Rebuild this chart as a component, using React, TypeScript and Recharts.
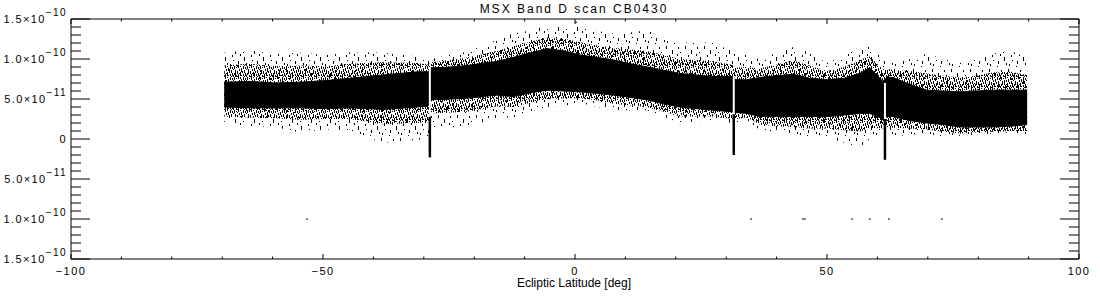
import {
  Area,
  ComposedChart,
  ReferenceArea,
  ReferenceLine,
  Scatter,
  XAxis,
  YAxis,
} from "recharts";

// ecliptic latitude samples along the scan
const lat = [
  -69.6, -64.5, -59.5, -54.6, -49.5, -44.6, -38.1, -31.3, -29.2, -28.4, -24.5, -21.4,
  -15.5, -12.3, -8.5, -5.6, -2.0, 1.0, 4.5, 7.5, 11.0, 14.3, 17.5, 20.8, 24.0, 27.4,
  31.1, 31.9, 34.1, 36.7, 40.0, 43.3, 46.5, 50.0, 53.5, 56.5, 58.5, 61.1, 61.9, 63.1,
  66.5, 69.8, 73.0, 76.4, 79.5, 82.9, 86.5, 89.7,
];
// flux in units of 1e-11: dense core of the point cloud
const coreHi = [
  7.1, 7.2, 7.0, 7.1, 7.3, 7.6, 8.0, 8.4, 8.4, 8.9, 9.0, 9.2, 9.7, 10.2, 10.8, 11.3,
  11.0, 10.5, 10.2, 9.9, 9.4, 9.0, 8.6, 8.2, 8.0, 7.8, 7.8, 7.4, 7.4, 7.7, 7.9, 8.1,
  7.6, 7.4, 7.6, 8.2, 8.9, 7.2, 7.7, 7.7, 6.8, 6.1, 6.0, 5.9, 6.0, 6.1, 6.1, 6.1,
];
const coreLo = [
  4.0, 3.9, 3.9, 3.9, 3.8, 3.9, 3.7, 4.0, 4.1, 4.9, 5.0, 5.1, 5.5, 5.3, 5.8, 6.1,
  6.0, 5.9, 5.7, 5.5, 5.2, 4.9, 4.4, 4.0, 3.8, 3.6, 3.4, 3.3, 3.2, 2.8, 2.8, 2.8,
  2.8, 2.8, 3.0, 3.2, 3.2, 2.5, 2.8, 2.8, 2.3, 2.0, 1.8, 1.5, 1.5, 1.5, 1.6, 1.8,
];
// ragged fringe around the core
const fringeHi = [
  9.2, 9.4, 9.1, 9.2, 9.1, 9.4, 9.6, 9.5, 9.3, 9.6, 9.9, 10.2, 11.0, 11.6, 12.2, 12.7,
  12.5, 12.1, 11.7, 11.4, 11.2, 11.0, 10.5, 10.0, 9.9, 9.7, 9.3, 8.9, 9.0, 8.8, 9.3, 9.8,
  9.2, 8.5, 9.0, 9.9, 10.3, 8.7, 8.9, 8.6, 8.5, 8.2, 7.9, 7.7, 7.9, 8.3, 8.4, 8.0,
];
const fringeLo = [
  2.8, 2.7, 2.6, 2.4, 2.5, 2.5, 1.8, 2.0, 2.1, 3.2, 3.3, 3.4, 4.1, 4.0, 4.6, 5.0,
  5.1, 5.1, 4.8, 4.4, 4.2, 4.0, 3.4, 2.8, 2.8, 2.8, 2.5, 2.5, 2.7, 1.8, 1.6, 1.5,
  1.3, 1.3, 1.1, 0.9, 1.4, 1.3, 1.5, 1.4, 1.3, 1.2, 0.9, 0.7, 0.8, 0.9, 1.0, 1.0,
];
// outer reach of the sparse spikes
const haloHi = [
  10.8, 11.1, 10.6, 10.8, 10.5, 10.8, 10.8, 10.3, 10.0, 10.0, 10.6, 10.9, 12.4, 13.2,
  13.6, 14.2, 14.0, 14.0, 13.5, 13.2, 13.3, 13.6, 12.6, 12.0, 12.2, 12.0, 11.0, 10.5,
  10.7, 9.9, 10.8, 11.5, 10.8, 9.5, 10.5, 11.5, 11.8, 10.0, 10.0, 9.5, 10.0, 10.7,
  10.0, 9.5, 10.0, 10.7, 11.0, 10.2,
];
const haloLo = [
  2.0, 1.6, 1.5, 0.8, 1.2, 1.1, -0.5, -0.1, 0.0, 1.5, 1.5, 1.5, 2.7, 2.7, 3.5, 4.0,
  4.2, 4.5, 4.0, 3.6, 3.6, 3.6, 2.8, 2.0, 2.2, 2.4, 2.0, 2.0, 2.4, 1.1, 0.9, 0.7,
  0.3, 0.2, -0.5, -1.0, 0.0, 0.5, 0.5, 0.3, 0.5, 0.7, 0.3, 0.2, 0.5, 0.7, 0.8, 0.5,
];

// data gaps (white) with the dip just below each
const gapLat = [-28.8, 31.5, 61.5];
const gapTop = [9.0, 7.8, 7.0];
const gapBottom = [2.8, 3.1, 2.5];
const dipBottom = [-2.3, -2.0, -2.6];

// isolated outliers
const outLat = [-53.2, 0.2, 34.9, 45.2, 45.6, 55.0, 58.5, 62.3, 72.8];
const outVal = [-10.0, 14.6, -10.0, -10.0, -10.0, -10.0, -10.0, -10.0, -10.0];

const xTicks = [-100, -90, -80, -70, -60, -50, -40, -30, -20, -10, 0, 10, 20, 30, 40, 50, 60, 70, 80, 90, 100];
const yTicks = Array.from({ length: 31 }, (_, i) => i - 15);
const yLabels: Record<number, [string, string]> = {
  15: ["1.5×10", "−10"],
  10: ["1.0×10", "−10"],
  5: ["5.0×10", "−11"],
  0: ["0", ""],
  [-5]: ["5.0×10", "−11"],
  [-10]: ["1.0×10", "−10"],
  [-15]: ["1.5×10", "−10"],
};

// stipple used for the scattered points (x, y, h per streak)
const sparseDots = [
  [1, 0, 3], [4, 9, 2], [7, 4, 4], [10, 15, 3], [13, 1, 2], [16, 11, 4],
  [2, 18, 2], [9, 20, 1], [15, 6, 1], [18, 17, 2], [5, 14, 1], [12, 8, 2],
];
const denseDots = [
  [0, 0, 3], [0, 7, 2], [1, 4, 4], [2, 9, 2], [2, 1, 1], [3, 5, 3],
  [4, 0, 2], [4, 8, 3], [5, 3, 2], [6, 6, 4], [6, 0, 1], [7, 2, 3],
  [7, 9, 1], [8, 5, 2], [9, 0, 3], [9, 8, 2], [10, 4, 3], [11, 1, 2],
  [11, 7, 3], [12, 3, 1], [12, 9, 2], [3, 10, 1], [10, 10, 1], [5, 7, 1],
];

const rows = lat.map((x, i) => ({
  lat: x,
  core: [coreLo[i], coreHi[i]],
  fringe: [fringeLo[i], fringeHi[i]],
  halo: [haloLo[i], haloHi[i]],
}));
const outliers = outLat.map((x, i) => ({ lat: x, v: outVal[i] }));

const W = 1100;
const H = 300;
const LEFT = 71;
const RIGHT = 1079;
const TOP = 19;
const BOTTOM = 259;
const FONT = "'Liberation Sans', Arial, sans-serif";

function YTick(props: any) {
  const { y, payload } = props;
  const v = payload.value as number;
  const major = v % 5 === 0;
  const len = major ? 19 : 10;
  const lab = yLabels[v];
  return (
    <g>
      <line x1={LEFT} x2={LEFT + len} y1={y} y2={y} stroke="#000" />
      <line x1={RIGHT - len} x2={RIGHT} y1={y} y2={y} stroke="#000" />
      {lab && (
        <text
          x={67}
          y={y + 4}
          textAnchor="end"
          fontSize={11}
          fontFamily={FONT}
          letterSpacing={1.4}
          fill="#000"
        >
          {lab[0]}
          {lab[1] && (
            <tspan dy={-7} fontSize={10}>
              {lab[1]}
            </tspan>
          )}
        </text>
      )}
    </g>
  );
}

function XTick(props: any) {
  const { x, payload } = props;
  const v = payload.value as number;
  const major = v % 50 === 0;
  const len = major ? 5 : 2.5;
  return (
    <g>
      <line x1={x} x2={x} y1={BOTTOM} y2={BOTTOM - len} stroke="#000" />
      <line x1={x} x2={x} y1={TOP} y2={TOP + len} stroke="#000" />
      {major && (
        <text
          x={x}
          y={275}
          textAnchor="middle"
          fontSize={11}
          fontFamily={FONT}
          letterSpacing={1.4}
          fill="#000"
        >
          {v < 0 ? `−${-v}` : v}
        </text>
      )}
    </g>
  );
}

function Dot(props: any) {
  const { cx, cy } = props;
  return <rect x={cx - 1} y={cy - 0.5} width={2} height={1} fill="#000" />;
}

export default function App() {
  return (
    <div style={{ position: "absolute", left: 0, top: 0, width: W, height: H, background: "#fff" }}>
      <ComposedChart
        width={W}
        height={H}
        data={rows}
        margin={{ top: TOP, right: W - RIGHT, bottom: 11, left: 0 }}
      >
        <defs>
          <pattern id="sparse" width="19" height="23" patternUnits="userSpaceOnUse">
            {sparseDots.map(([x, y, h], i) => (
              <rect key={i} x={x} y={y} width={1} height={h} fill="#000" />
            ))}
          </pattern>
          <pattern id="dense" width="13" height="11" patternUnits="userSpaceOnUse">
            {denseDots.map(([x, y, h], i) => (
              <rect key={i} x={x} y={y} width={1} height={h} fill="#000" />
            ))}
          </pattern>
        </defs>
        <text
          x={574}
          y={13}
          textAnchor="middle"
          fontSize={12}
          fontFamily={FONT}
          letterSpacing={2}
          fill="#000"
        >
          MSX Band D scan CB0430
        </text>
        <text
          x={574}
          y={287}
          textAnchor="middle"
          fontSize={12}
          fontFamily={FONT}
          fill="#000"
        >
          Ecliptic Latitude [deg]
        </text>
        <XAxis
          dataKey="lat"
          type="number"
          domain={[-100, 100]}
          ticks={xTicks}
          interval={0}
          height={30}
          axisLine={false}
          tickLine={false}
          tick={<XTick />}
          allowDataOverflow
        />
        <YAxis
          type="number"
          domain={[-15, 15]}
          ticks={yTicks}
          interval={0}
          width={LEFT}
          axisLine={false}
          tickLine={false}
          tick={<YTick />}
          allowDataOverflow
        />
        <Area
          dataKey="halo"
          type="linear"
          fill="url(#sparse)"
          fillOpacity={1}
          stroke="none"
          isAnimationActive={false}
        />
        <Area
          dataKey="fringe"
          type="linear"
          fill="url(#dense)"
          fillOpacity={1}
          stroke="none"
          isAnimationActive={false}
        />
        <Area
          dataKey="core"
          type="linear"
          fill="#000"
          fillOpacity={1}
          stroke="#000"
          strokeWidth={1}
          isAnimationActive={false}
        />
        {gapLat.map((g, i) => (
          <ReferenceLine
            key={`dip${i}`}
            segment={[
              { x: g, y: gapBottom[i] },
              { x: g, y: dipBottom[i] },
            ]}
            stroke="#000"
            strokeWidth={2.5}
          />
        ))}
        {gapLat.map((g, i) => (
          <ReferenceLine
            key={`gap${i}`}
            segment={[
              { x: g, y: gapTop[i] },
              { x: g, y: gapBottom[i] },
            ]}
            stroke="#fff"
            strokeWidth={2}
          />
        ))}
        <Scatter data={outliers} dataKey="v" shape={<Dot />} isAnimationActive={false} />
        <ReferenceArea
          x1={-100}
          x2={100}
          y1={-15}
          y2={15}
          fill="none"
          stroke="#000"
          strokeWidth={1}
        />
      </ComposedChart>
    </div>
  );
}
